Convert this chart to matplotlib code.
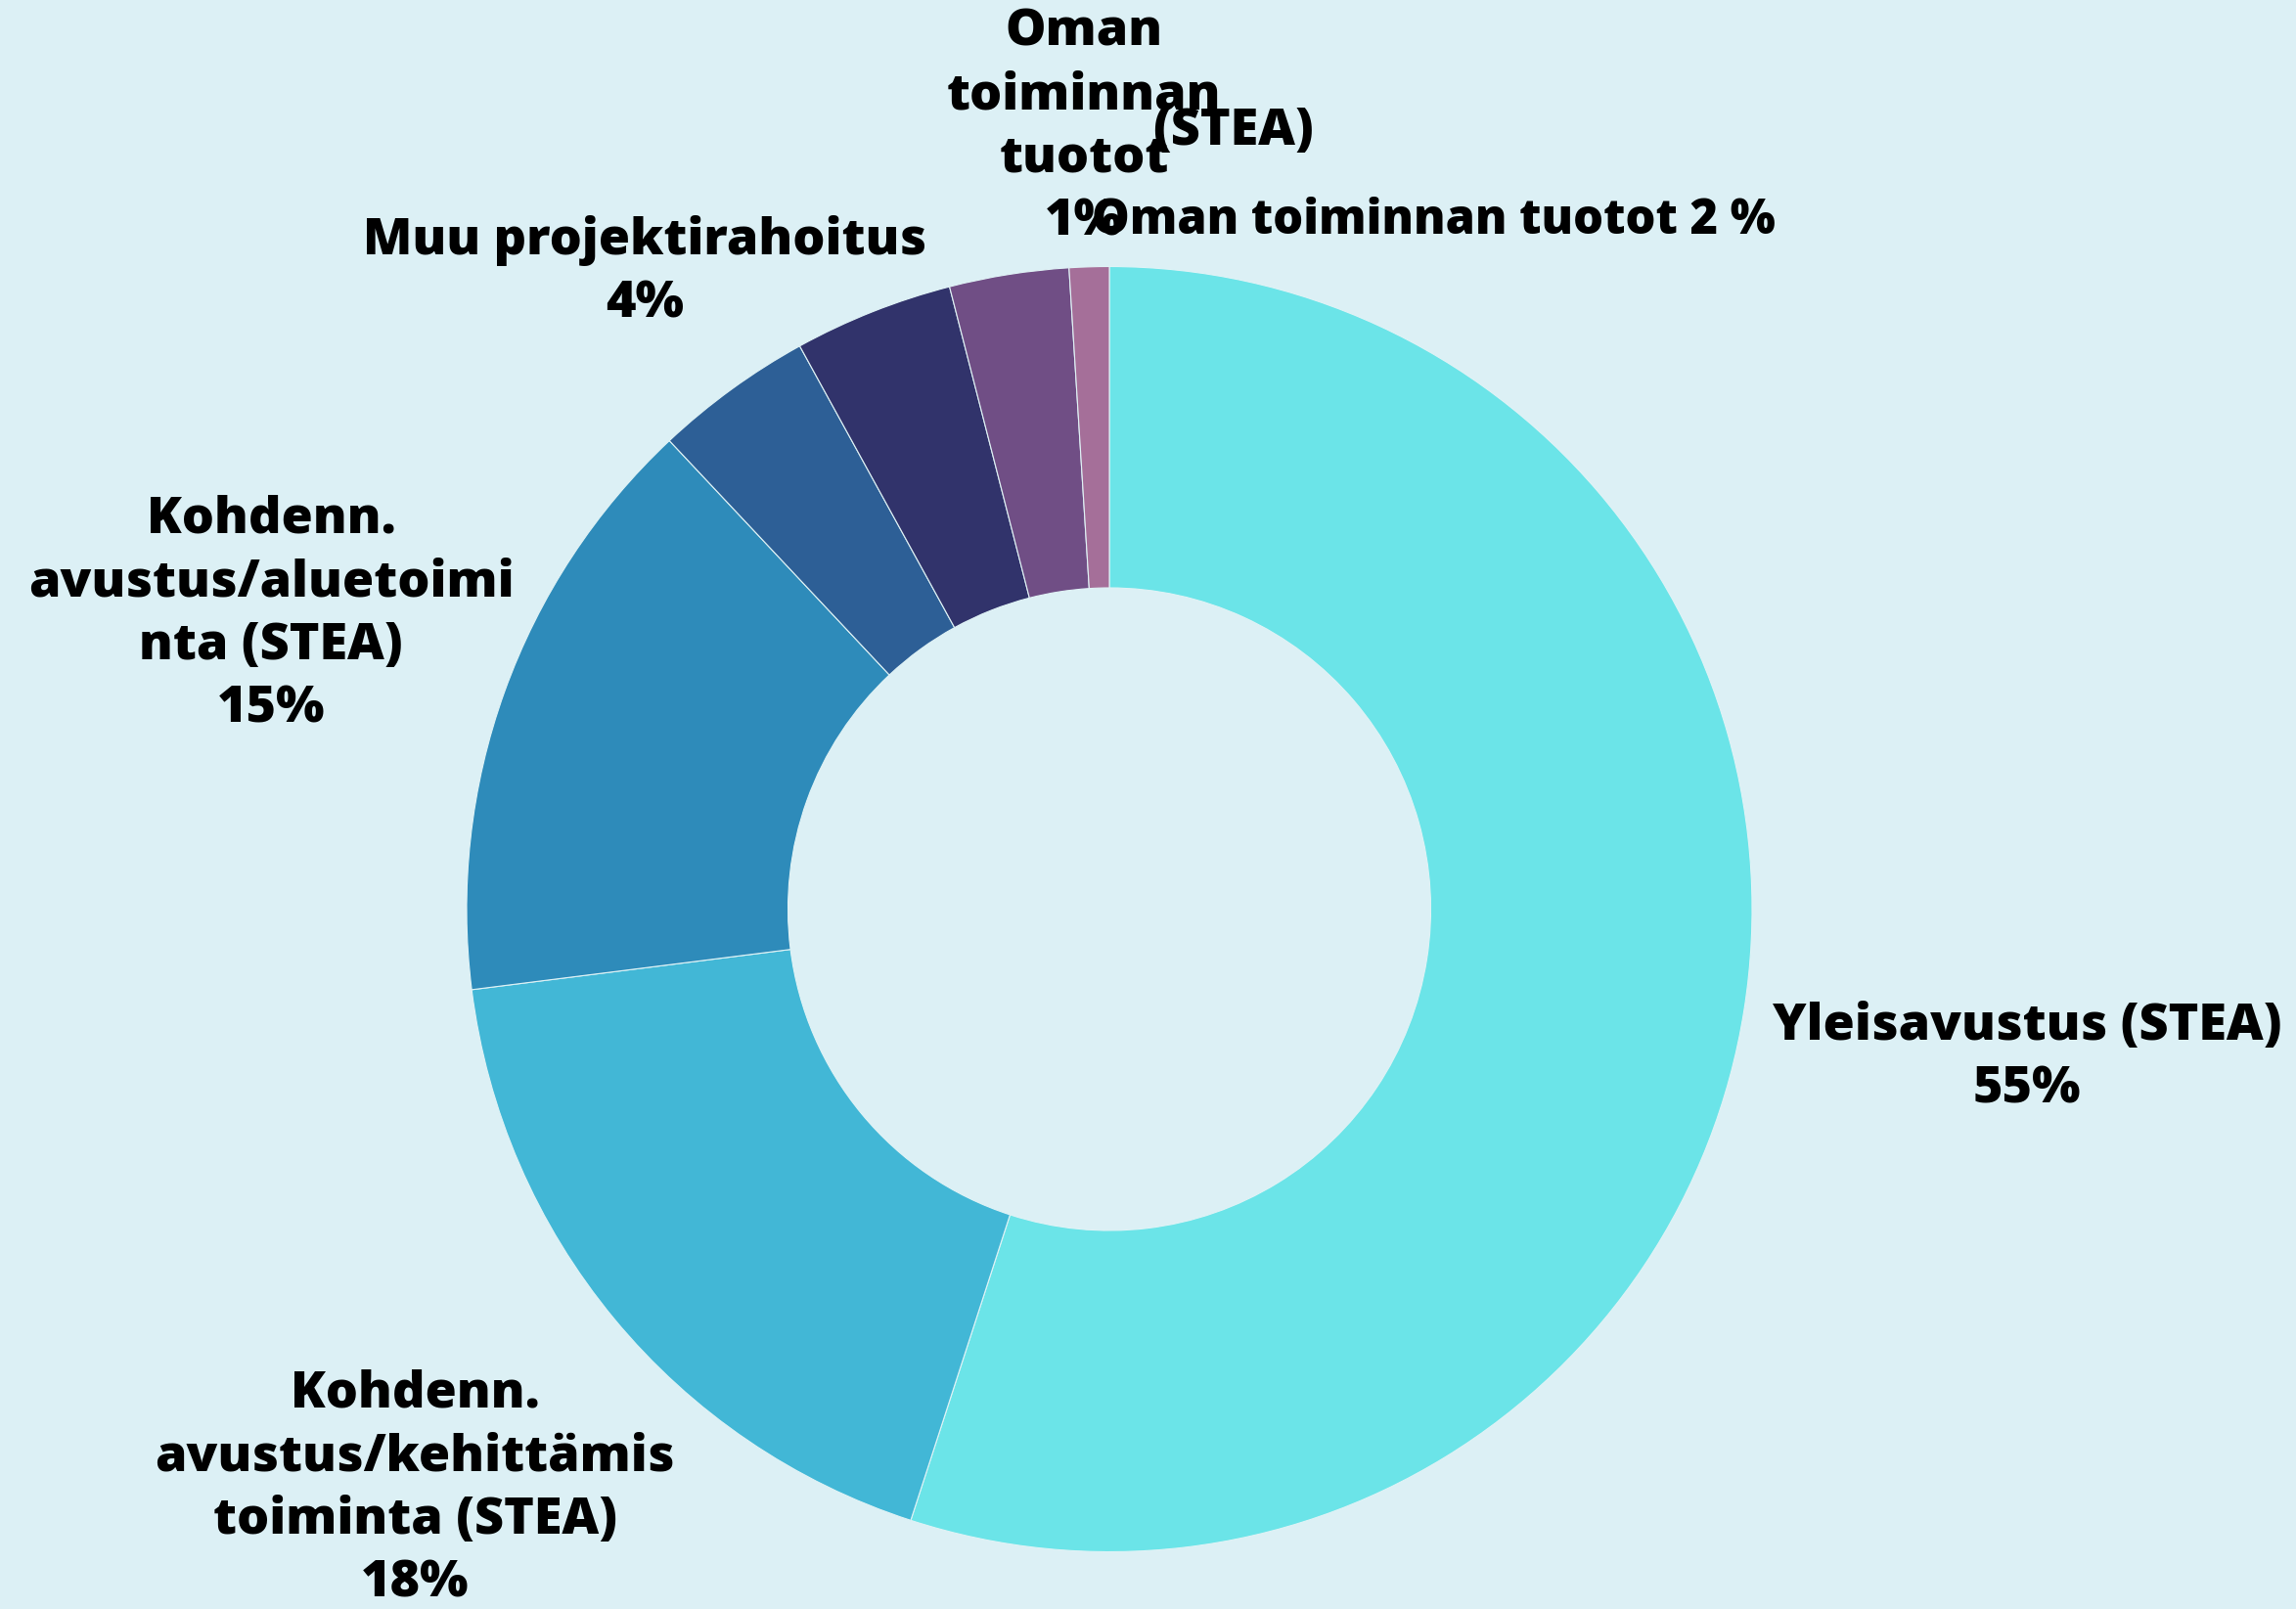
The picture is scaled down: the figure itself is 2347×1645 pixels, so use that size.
import matplotlib
matplotlib.use("Agg")
import matplotlib.pyplot as plt

# slice shares (%), clockwise from 12 o'clock
values = [55, 18, 15, 4, 4, 3, 1]
colors = ['#6be4e8', '#42b7d6', '#2e8bba', '#2d5f96', '#31336b', '#704e85', '#a56f99']

# label texts as they appear in the picture (some overlap in the original)
label_texts = [
    'Yleisavustus (STEA)\n55%',
    'Kohdenn.\navustus/kehittämis\ntoiminta (STEA)\n18%',
    'Kohdenn.\navustus/aluetoimi\nnta (STEA)\n15%',
    'Muu projektirahoitus\n4%',
    'Oman\ntoiminnan\ntuotot\n1%',
    '(STEA)',
    'Oman toiminnan tuotot 2 %',
]
# label centres in pixels (x from left, y from top)
label_pos = [(2072, 1082), (424, 1522), (277, 628), (659, 278),
             (1108, 130), (1261, 135), (1465, 226)]
label_sizes = [37.5, 37.5, 37.5, 37.5, 37.5, 37.5, 35]

W, H = 2347, 1645
BG = '#dcf0f5'

plt.rcParams['font.family'] = ['Open Sans', 'DejaVu Sans']

fig = plt.figure(figsize=(W / 100, H / 100), dpi=100, facecolor=BG)
ax = fig.add_axes([0, 0, 1, 1])
ax.set_facecolor(BG)

cx, cy, r = 1134, H - 929.5, 657
ax.pie(values, colors=colors, startangle=90, counterclock=False,
       radius=r, center=(cx, cy),
       wedgeprops=dict(width=r * 0.5, linewidth=0.8, edgecolor='#e0f3f6'))

for txt, (x, y), fs in zip(label_texts, label_pos, label_sizes):
    ax.text(x, H - y, txt, ha='center', va='center', fontsize=fs,
            fontweight=800, color='black', linespacing=1.35)

ax.set_xlim(0, W)
ax.set_ylim(0, H)
ax.set_aspect('equal')
ax.axis('off')

fig.savefig('out.png', dpi=100, facecolor=BG)
